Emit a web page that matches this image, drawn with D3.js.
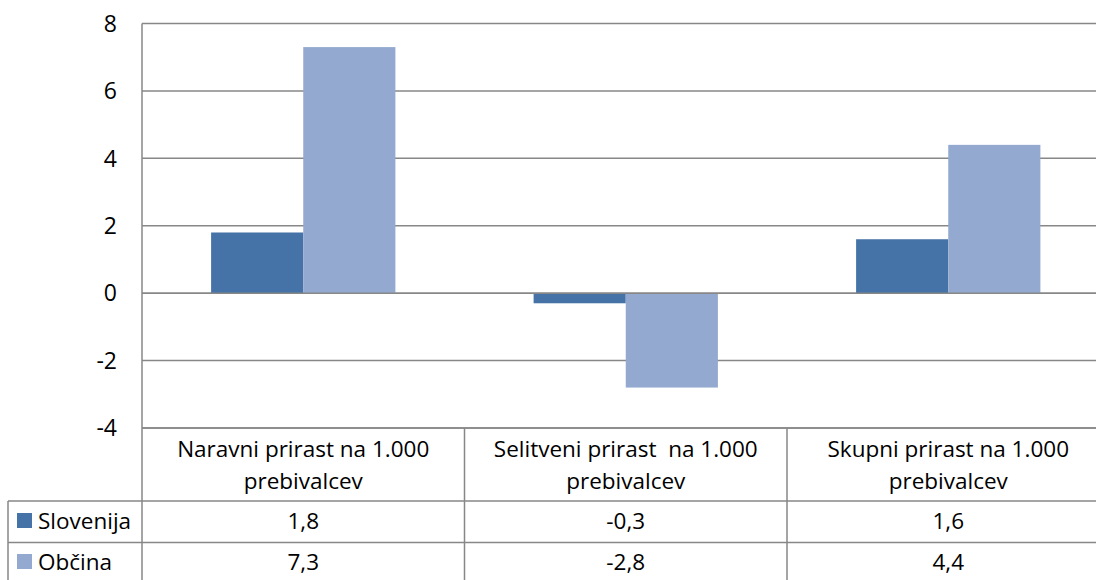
<!DOCTYPE html>
<meta charset="utf-8">
<style>
  body { margin: 0; background: #fff; }
  svg { display: block; }
  text { font-family: "Open Sans", sans-serif; fill: #000; white-space: pre; }
  .grid line { stroke: #878787; stroke-width: 1.5; }
  .tbl line { stroke: #878787; stroke-width: 1.5; }
</style>
<body>
<script src="https://cdn.jsdelivr.net/npm/d3@7"></script>
<script>
var width = 1096,
    height = 580;

// data
var categories = ["Naravni prirast na 1.000 prebivalcev", "Selitveni prirast  na 1.000 prebivalcev", "Skupni prirast na 1.000 prebivalcev"];
var catLines = [["Naravni prirast na 1.000", "prebivalcev"], ["Selitveni prirast  na 1.000", "prebivalcev"], ["Skupni prirast na 1.000", "prebivalcev"]];
var seriesNames = ["Slovenija", "Občina"];
var slovenija = [1.8, -0.3, 1.6];
var obcina = [7.3, -2.8, 4.4];
var valueLabels = [["1,8", "-0,3", "1,6"], ["7,3", "-2,8", "4,4"]];
var yTicks = [-4, -2, 0, 2, 4, 6, 8];
var colors = ["#4572a7", "#93a9cf"];

var series = [slovenija, obcina];

var left = 142, plotRight = 1109.5;

var svg = d3.select("body").append("svg")
    .attr("width", width)
    .attr("height", height);

var x = d3.scaleBand()
    .domain(categories)
    .range([left, plotRight])
    .paddingInner(0)
    .paddingOuter(0);

var x1 = d3.scaleBand()
    .domain(seriesNames)
    .range([0, x.bandwidth()])
    .paddingOuter(0.75)
    .paddingInner(0);

var y = d3.scaleLinear()
    .domain([-4, 8])
    .range([428, 23.5]);

// gridlines
svg.append("g").attr("class", "grid")
  .selectAll("line").data(yTicks)
  .enter().append("line")
    .attr("x1", left).attr("x2", width)
    .attr("y1", function(d) { return y(d); })
    .attr("y2", function(d) { return y(d); });

// tick labels
svg.append("g")
  .selectAll("text").data(yTicks)
  .enter().append("text")
    .attr("x", 117)
    .attr("y", function(d) { return y(d); })
    .attr("dy", "0.36em")
    .attr("text-anchor", "end")
    .style("font-size", "23px")
    .text(function(d) { return d; });

// bars
seriesNames.forEach(function(s, si) {
  svg.append("g")
    .selectAll("rect").data(series[si])
    .enter().append("rect")
      .attr("x", function(d, i) { return x(categories[i]) + x1(s); })
      .attr("width", x1.bandwidth())
      .attr("y", function(d) { return y(Math.max(0, d)); })
      .attr("height", function(d) { return Math.abs(y(d) - y(0)); })
      .attr("fill", colors[si]);
});

// zero line on top of bars
svg.append("line").attr("class", "zero")
    .attr("x1", left).attr("x2", width)
    .attr("y1", y(0)).attr("y2", y(0))
    .attr("stroke", "#878787").attr("stroke-width", 1.5);

// axis line + data table
var rowTop = [428, 501, 542.5], rowBottom = 580;
var tbl = svg.append("g").attr("class", "tbl");

tbl.append("line")
    .attr("x1", left).attr("x2", left)
    .attr("y1", y(8)).attr("y2", rowBottom);

// column dividers
categories.slice(1).forEach(function(c) {
  tbl.append("line")
      .attr("x1", x(c)).attr("x2", x(c))
      .attr("y1", rowTop[0]).attr("y2", rowBottom);
});

tbl.append("line").attr("x1", left).attr("x2", width).attr("y1", rowTop[0]).attr("y2", rowTop[0]);
tbl.append("line").attr("x1", 8).attr("x2", width).attr("y1", rowTop[1]).attr("y2", rowTop[1]);
tbl.append("line").attr("x1", 8).attr("x2", width).attr("y1", rowTop[2]).attr("y2", rowTop[2]);
tbl.append("line").attr("x1", 8).attr("x2", 8).attr("y1", rowTop[1]).attr("y2", rowBottom);

// category labels
svg.append("g")
  .selectAll("text").data(categories)
  .enter().append("text")
    .attr("text-anchor", "middle")
    .style("font-size", "22.5px")
    .attr("transform", function(d) { return "translate(" + (x(d) + x.bandwidth() / 2) + ",0)"; })
    .each(function(d, i) {
      var t = d3.select(this);
      catLines[i].forEach(function(line, li) {
        t.append("tspan").attr("x", 0).attr("y", 457 + li * 32).text(line);
      });
    });

// value rows
var rowMid = [521, 562];
seriesNames.forEach(function(s, si) {
  svg.append("g")
    .selectAll("text").data(valueLabels[si])
    .enter().append("text")
      .attr("x", function(d, i) { return x(categories[i]) + x.bandwidth() / 2; })
      .attr("y", rowMid[si])
      .attr("dy", "0.36em")
      .attr("text-anchor", "middle")
      .style("font-size", "22.5px")
      .text(function(d) { return d; });

  svg.append("rect")
      .attr("x", 17).attr("y", rowMid[si] - 8)
      .attr("width", 15).attr("height", 15)
      .attr("fill", colors[si]);

  svg.append("text")
      .attr("x", 38).attr("y", rowMid[si])
      .attr("dy", "0.36em")
      .style("font-size", "22.5px")
      .text(s);
});
</script>
